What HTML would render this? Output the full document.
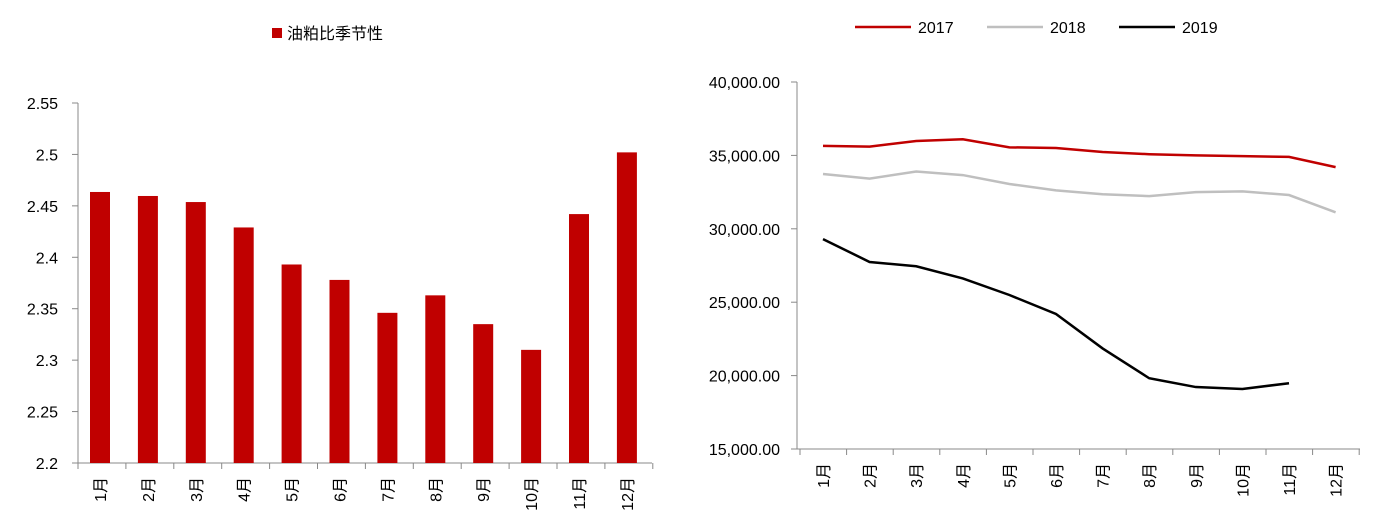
<!DOCTYPE html>
<html><head><meta charset="utf-8"><style>
body{margin:0;background:#fff;}
svg text{font-family:"Liberation Sans","Noto Sans CJK SC",sans-serif;font-size:16px;fill:#000;}
</style></head><body>
<svg width="1377" height="525">
<g id="left"></g>
<g id="right"></g>
</svg>
<script>
const months=["1月","2月","3月","4月","5月","6月","7月","8月","9月","10月","11月","12月"];
const ratioValues=[2.4635,2.4596,2.4537,2.429,2.393,2.378,2.346,2.363,2.335,2.310,2.442,2.502];
const leftTicks=["2.2","2.25","2.3","2.35","2.4","2.45","2.5","2.55"];
const rightTicks=["15,000.00","20,000.00","25,000.00","30,000.00","35,000.00","40,000.00"];
const s2017=[35650,35600,35980,36100,35550,35500,35230,35080,35000,34950,34900,34200];
const s2018=[33730,33420,33900,33660,33050,32620,32350,32230,32500,32550,32300,31120];
const s2019=[29300,27740,27450,26620,25490,24200,21850,19820,19220,19090,19480];
const NS="http://www.w3.org/2000/svg";
function mk(p,t,a){const e=document.createElementNS(NS,t);for(const k in a)e.setAttribute(k,a[k]);p.appendChild(e);return e;}
// left
const L=document.getElementById('left');
const ly=v=>463-(v-2.2)/0.35*360, lx=i=>100+i*47.9;
let e=mk(L,'line',{x1:78,y1:103,x2:78,y2:463,stroke:'#888'});

e=mk(L,'line',{x1:78,y1:463,x2:652,y2:463,stroke:'#888'});

leftTicks.forEach(t=>{const y=ly(+t);mk(L,'line',{x1:72,y1:y,x2:78,y2:y,stroke:'#888'});
 e=mk(L,'text',{x:58,y:y+6,'text-anchor':'end'});e.textContent=t;
 });
for(let i=0;i<=12;i++){const x=78+i*47.9;mk(L,'line',{x1:x,y1:463,x2:x,y2:469,stroke:'#888'});}
ratioValues.forEach((v,i)=>{e=mk(L,'rect',{x:lx(i)-10,y:ly(v),width:20,height:463-ly(v),fill:'#c00000'});
 });
months.forEach((m,i)=>{e=mk(L,'text',{transform:`translate(${lx(i)+6},477) rotate(-90)`,'text-anchor':'end'});e.textContent=m;
 });
e=mk(L,'rect',{x:272,y:28,width:10,height:10,fill:'#c00000'});

e=mk(L,'text',{x:287,y:39,'font-size':'18'});e.textContent='油粕比季节性';

// right
const R=document.getElementById('right');
const ry=v=>449-(v-15000)/25000*367, rx=i=>823+i*46.6;
e=mk(R,'line',{x1:797,y1:82,x2:797,y2:449,stroke:'#888'});

e=mk(R,'line',{x1:797,y1:449,x2:1360,y2:449,stroke:'#888'});

rightTicks.forEach(t=>{const y=ry(+t.replace(/,/g,''));mk(R,'line',{x1:791,y1:y,x2:797,y2:y,stroke:'#888'});
 e=mk(R,'text',{x:780,y:y+6,'text-anchor':'end'});e.textContent=t;
 });
for(let i=0;i<=12;i++){const x=800+i*46.6;mk(R,'line',{x1:x,y1:449,x2:x,y2:455,stroke:'#888'});}
months.forEach((m,i)=>{e=mk(R,'text',{transform:`translate(${rx(i)+6},463) rotate(-90)`,'text-anchor':'end'});e.textContent=m;
 });
[[s2017,'#c00000','2017',855],[s2018,'#bfbfbf','2018',987],[s2019,'#000','2019',1119]].forEach(([s,c,n,lx0])=>{
 e=mk(R,'polyline',{points:s.map((v,i)=>rx(i)+','+ry(v)).join(' '),fill:'none',stroke:c,'stroke-width':2.5});
 
 e=mk(R,'line',{x1:lx0,y1:27,x2:lx0+56,y2:27,stroke:c,'stroke-width':2.5});
 
 e=mk(R,'text',{x:lx0+63,y:33});e.textContent=n;
 
});
</script>
</body></html>
